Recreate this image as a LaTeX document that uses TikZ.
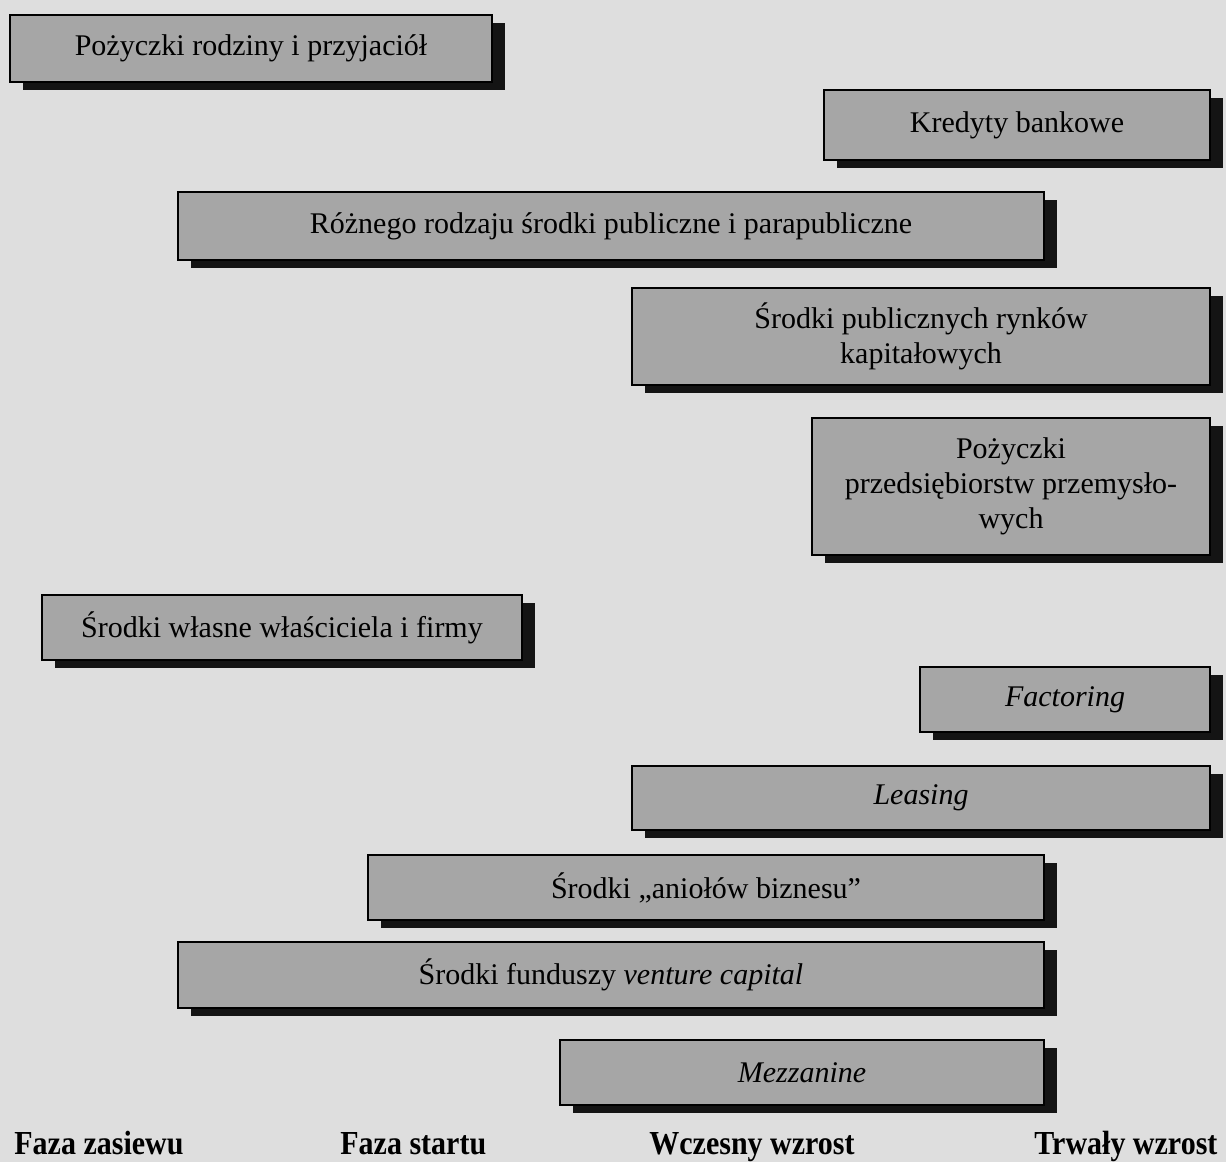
\documentclass[tikz,border=0pt]{standalone}
\usepackage{fontspec}
\setmainfont{Liberation Serif}
\usetikzlibrary{shadows}
\definecolor{paper}{HTML}{DEDEDE}
\definecolor{boxgray}{HTML}{A6A6A6}
\tikzset{
  fbox/.style={draw=black, line width=1.2pt, fill=boxgray, inner sep=0pt,
    align=center, font=\fontsize{15}{17.5}\selectfont,
    drop shadow={shadow xshift=6.5pt, shadow yshift=-4pt, fill=black!92, opacity=1}},
  phase/.style={anchor=base west, inner sep=0pt, font=\fontsize{15}{18}\selectfont\bfseries}
}
\begin{document}
\begin{tikzpicture}[x=0.5pt, y=-0.5pt]
\fill[paper] (0,0) rectangle (1226,1162);
\useasboundingbox (0,0) rectangle (1226,1162);

\node[fbox, minimum width=241pt, minimum height=33.5pt] (b1) at (251,48.5) {Pożyczki rodziny i przyjaciół};
\node[fbox, minimum width=193pt, minimum height=35pt] (b2) at (1017,125) {Kredyty bankowe};
\node[fbox, minimum width=433pt, minimum height=34pt] (b3) at (611,226) {Różnego rodzaju środki publiczne i parapubliczne};
\node[fbox, minimum width=289pt, minimum height=48.5pt] (b4) at (921,336.5) {Środki publicznych rynków\\kapitałowych};
\node[fbox, minimum width=199pt, minimum height=68.5pt] (b5) at (1011,486.5) {Pożyczki\\przedsiębiorstw przemysło-\\wych};
\node[fbox, minimum width=240pt, minimum height=32.5pt] (b6) at (282,627.5) {Środki własne właściciela i firmy};
\node[fbox, minimum width=145pt, minimum height=32.5pt] (b7) at (1065,699.5) {\itshape Factoring};
\node[fbox, minimum width=289pt, minimum height=32pt] (b8) at (921,798) {\itshape Leasing};
\node[fbox, minimum width=338pt, minimum height=32.5pt] (b9) at (706,887.5) {Środki „aniołów biznesu''};
\node[fbox, minimum width=433pt, minimum height=33pt] (b10) at (611,975) {Środki funduszy \textit{venture capital}};
\node[fbox, minimum width=242pt, minimum height=32.5pt] (b11) at (802,1072.5) {\itshape Mezzanine};

\node[phase] (p1) at (14,1154) {\scalebox{1}[1.12]{Faza zasiewu}};
\node[phase] (p2) at (340,1154) {\scalebox{1}[1.12]{Faza startu}};
\node[phase] (p3) at (649,1154) {\scalebox{1}[1.12]{Wczesny wzrost}};
\node[phase] (p4) at (1034,1154) {\scalebox{1}[1.12]{Trwały wzrost}};
\end{tikzpicture}
\end{document}
